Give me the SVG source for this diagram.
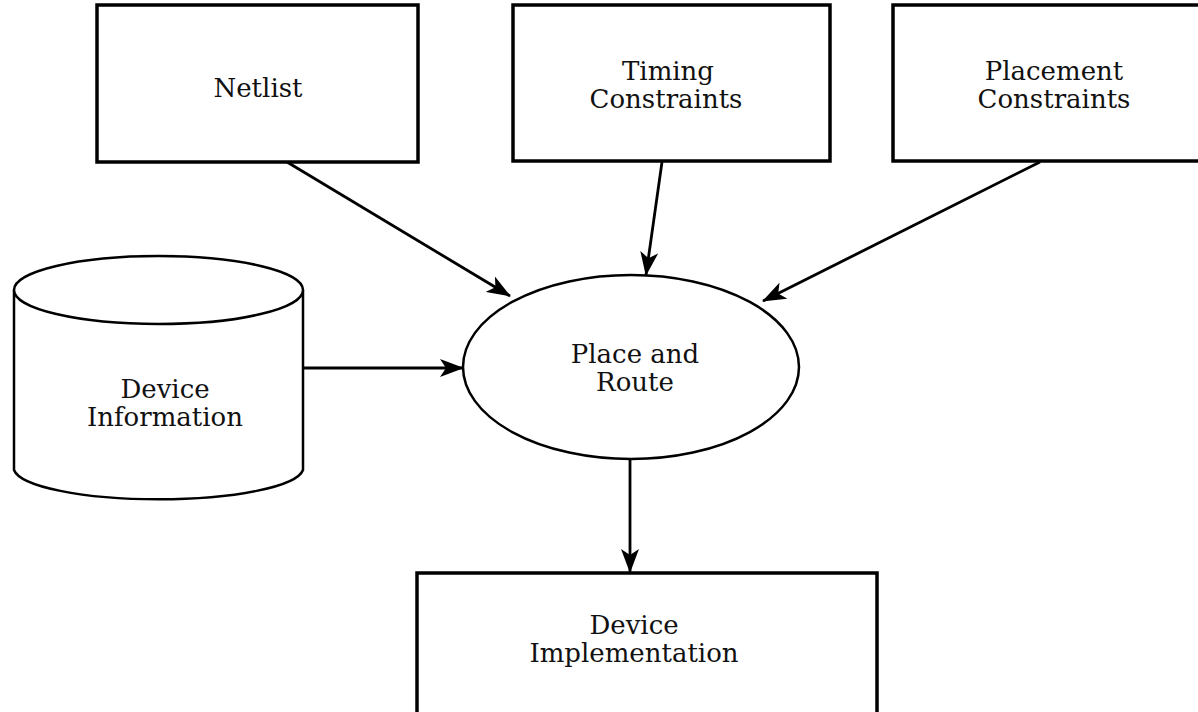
<svg xmlns="http://www.w3.org/2000/svg" width="1198" height="712" viewBox="0 0 1198 712">
<style>
.box{fill:#fff;stroke:#000;stroke-width:3.5}
.shape{fill:#fff;stroke:#000;stroke-width:2.5}
.lbl{font-family:"DejaVu Serif","Liberation Serif",serif;font-size:26px;fill:#111;text-anchor:middle}
.conn{stroke:#000;stroke-width:2.8;fill:none;marker-end:url(#ah)}
</style>
<defs>
<marker id="ah" viewBox="0 0 24 18" refX="23" refY="9" markerWidth="24" markerHeight="18" markerUnits="userSpaceOnUse" orient="auto">
<path d="M0,0 L24,9 L0,18 L6,9 Z" fill="#000"/>
</marker>
</defs>
<rect width="1198" height="712" fill="#fff"/>
<g id="connectors">
<line class="conn" x1="287" y1="162" x2="510" y2="296"/>
<line class="conn" x1="662" y1="162" x2="646" y2="275"/>
<line class="conn" x1="1040" y1="162" x2="763" y2="301"/>
<line class="conn" x1="303" y1="368" x2="463" y2="368"/>
<line class="conn" x1="630" y1="460" x2="630" y2="572"/>
</g>
<g id="netlist">
<rect class="box" x="97" y="5" width="321" height="157"/>
<text class="lbl" x="258" y="97">Netlist</text>
</g>
<g id="timing">
<rect class="box" x="513" y="5" width="317" height="156"/>
<text class="lbl" x="668" y="80">Timing</text>
<text class="lbl" x="666" y="108">Constraints</text>
</g>
<g id="placement">
<rect class="box" x="893" y="5" width="312" height="156"/>
<text class="lbl" x="1054" y="80">Placement</text>
<text class="lbl" x="1054" y="108">Constraints</text>
</g>
<g id="device-info">
<path class="shape" d="M14,290 L14,470 A145,32 0 0 0 303,470 L303,290"/>
<ellipse class="shape" cx="158.5" cy="290" rx="144.5" ry="34"/>
<text class="lbl" x="165" y="398">Device</text>
<text class="lbl" x="165" y="426">Information</text>
</g>
<g id="place-route">
<ellipse class="shape" cx="631" cy="367" rx="168" ry="92"/>
<text class="lbl" x="635" y="363">Place and</text>
<text class="lbl" x="635" y="391">Route</text>
</g>
<g id="device-impl">
<rect class="box" x="417" y="573" width="460" height="150"/>
<text class="lbl" x="634" y="634">Device</text>
<text class="lbl" x="634" y="662">Implementation</text>
</g>
</svg>
